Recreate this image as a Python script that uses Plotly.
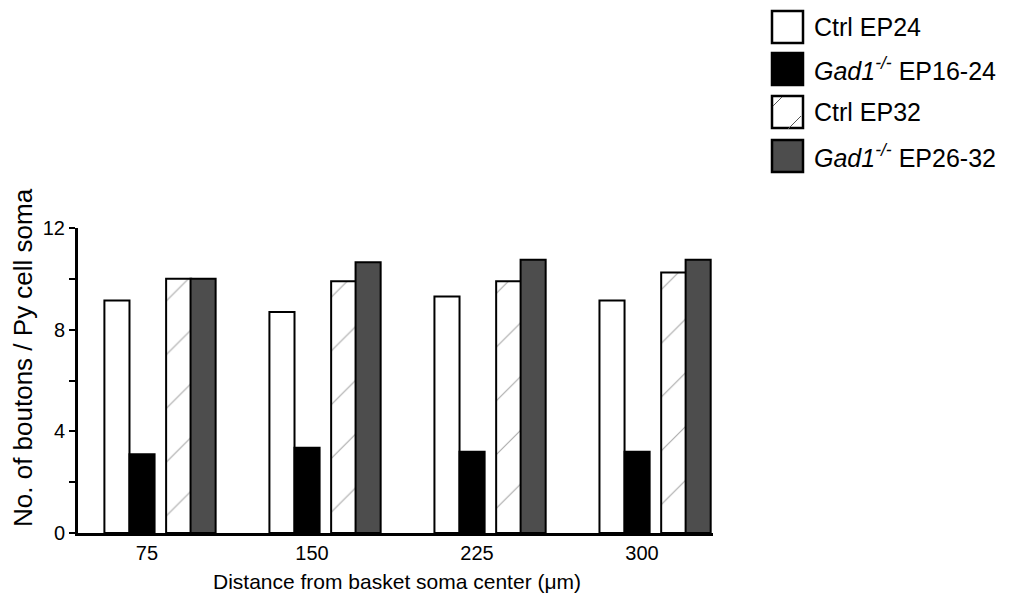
import plotly.graph_objects as go

# ---- data ----
distances = ["75", "150", "225", "300"]
ctrl_ep24 = [9.15, 8.7, 9.3, 9.15]
gad1_ep16_24 = [3.1, 3.35, 3.2, 3.2]
ctrl_ep32 = [10.0, 9.9, 9.9, 10.25]
gad1_ep26_32 = [10.0, 10.65, 10.75, 10.75]
y_tick_vals = [0, 4, 8, 12]
y_tick_text = ["0", "4", "8", "12"]
legend_labels = ["Ctrl EP24", "<i>Gad1<sup>-/-</sup></i> EP16-24",
                 "Ctrl EP32", "<i>Gad1<sup>-/-</sup></i> EP26-32"]

FONT = "Liberation Sans, Arial, Helvetica, sans-serif"
OFF = 8  # page body margin
W, H = 1012 - OFF, 602 - OFF
L, T = 78 - OFF, 228 - OFF
PW, PH = 635, 305
R, B = W - L - PW, H - T - PH


def px(x):
    return (x - OFF - L) / PW


def py(y):
    return (T + PH - (y - OFF)) / PH


xpos = list(range(len(distances)))
bw = 0.152

fig = go.Figure()
fig.add_trace(go.Bar(x=xpos, y=ctrl_ep24, name="Ctrl EP24", offset=-0.258, width=bw,
                     marker=dict(color="white", line=dict(color="black", width=2))))
fig.add_trace(go.Bar(x=xpos, y=gad1_ep16_24, name="Gad1-/- EP16-24", offset=-0.106, width=bw,
                     marker=dict(color="black", line=dict(color="black", width=2))))
fig.add_trace(go.Bar(x=xpos, y=ctrl_ep32, name="Ctrl EP32", offset=0.116, width=bw,
                     marker=dict(color="white", line=dict(color="black", width=2),
                                 pattern=dict(shape="/", size=38, solidity=0.03,
                                              fgcolor="#555555", bgcolor="white", fillmode="overlay"))))
fig.add_trace(go.Bar(x=xpos, y=gad1_ep26_32, name="Gad1-/- EP26-32", offset=0.264, width=bw,
                     marker=dict(color="#4d4d4d", line=dict(color="black", width=2))))

fig.update_layout(
    width=W, height=H,
    margin=dict(l=L, r=R, t=T, b=B),
    paper_bgcolor="white", plot_bgcolor="white",
    barmode="overlay",
    showlegend=False,
    font=dict(family=FONT, color="black", size=20),
    xaxis=dict(range=[-0.418, 3.43], tickvals=xpos, ticktext=distances,
               showline=True, linecolor="black", linewidth=3, ticks="",
               showgrid=False, zeroline=False, tickfont=dict(size=20)),
    yaxis=dict(range=[0, 12], tickvals=y_tick_vals, ticktext=y_tick_text,
               showline=True, linecolor="black", linewidth=3, ticks="outside",
               ticklen=6, tickwidth=2, tickcolor="black",
               minor=dict(tickvals=[2, 6, 10], ticks="outside", ticklen=6,
                          tickwidth=2, tickcolor="black", showgrid=False),
               showgrid=False, zeroline=False, tickfont=dict(size=20)),
)

annotations = [
    dict(text="No. of boutons / Py cell soma", x=px(23), y=py(358), xref="paper", yref="paper",
         textangle=-90, showarrow=False, xanchor="center", yanchor="middle",
         font=dict(size=26)),
    dict(text="Distance from basket soma center (\u03bcm)", x=px(397), y=py(581),
         xref="paper", yref="paper", showarrow=False, xanchor="center", yanchor="middle",
         font=dict(size=21)),
]

shapes = []
centers = [27, 69, 112, 156]
fills = ["white", "black", "white", "#4d4d4d"]
for lab, cy, fc in zip(legend_labels, centers, fills):
    shapes.append(dict(type="rect", xref="paper", yref="paper",
                       x0=px(772), x1=px(803), y0=py(cy + 16), y1=py(cy - 16),
                       fillcolor=fc, line=dict(color="black", width=2.5)))
    annotations.append(dict(text=lab, x=px(812), y=py(cy), xref="paper", yref="paper",
                            showarrow=False, xanchor="left", yanchor="middle",
                            font=dict(size=25)))
# hatch marks in the Ctrl EP32 legend box
for (xa, ya, xb, yb) in [(773, 106, 782, 97), (788, 129, 801, 116)]:
    shapes.append(dict(type="line", xref="paper", yref="paper",
                       x0=px(xa), y0=py(ya), x1=px(xb), y1=py(yb),
                       line=dict(color="#555555", width=1)))

fig.update_layout(annotations=annotations, shapes=shapes)
fig.write_html("out.html")
